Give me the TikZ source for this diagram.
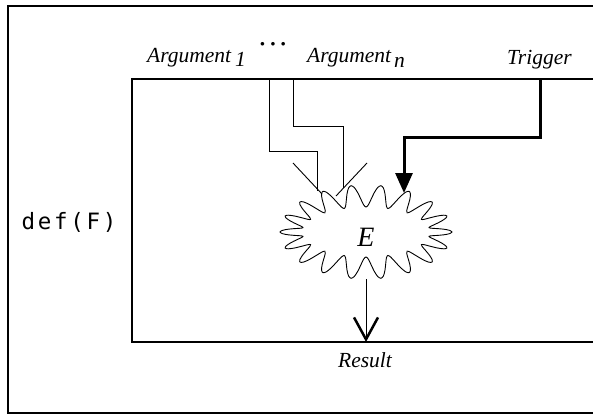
\documentclass[tikz,border=0pt]{standalone}
\usepackage{fontspec}
\setmainfont{Liberation Serif}
\newfontfamily\deffont[LetterSpace=12]{DejaVu Sans Mono}
\usetikzlibrary{arrows.meta}
\begin{document}
\begin{tikzpicture}[x=1pt,y=-1pt,
  wire/.style={line width=0.9pt},
  trig/.style={line width=3pt},
  frame/.style={line width=1.3pt},
  lab/.style={font=\fontsize{21.5}{24}\selectfont\itshape, inner sep=0pt}]
\useasboundingbox (0,0) rectangle (593,414);
\clip (0,0) rectangle (593,414);
% frames
\draw[frame] (600,6) -- (8,6) -- (8,413) -- (600,413);
\draw[frame] (600,79) -- (132,79) -- (132,342) -- (600,342);
% labels
\node[lab, anchor=base west] (arg1) at (147,63) {Argument\hspace{4pt}\raisebox{-4pt}{1}};
\node[font=\fontsize{22}{24}\selectfont\bfseries, inner sep=0pt] (dots) at (273,47) {\textperiodcentered\hspace{3pt}\textperiodcentered\hspace{3pt}\textperiodcentered};
\node[lab, anchor=base west] (argn) at (307,63) {Argument\hspace{3pt}\raisebox{-5pt}{n}};
\node[lab, anchor=base west] (trig) at (507,65) {Trigger};
\node[lab, anchor=base] (res) at (365,367) {Result};
\node[font=\deffont\fontsize{22.5}{24}\selectfont, inner sep=0pt] (def) at (69,222) {def(F)};
% expression blob
\draw[wire] plot[smooth, variable=\t, samples=181, domain=0:360]
  ({366+(75+11*cos(18*\t))*cos(\t)}, {232+(36+11*cos(18*\t))*sin(\t)}) -- cycle;
\node[font=\fontsize{28}{30}\selectfont\itshape, inner sep=0pt] (E) at (366,237) {E};
\coordinate (Ebot) at (366,279);
% argument wires
\coordinate (a1top) at (269,79);
\coordinate (a1m1) at (269,151);
\coordinate (a1m2) at (317,151);
\coordinate (a1end) at (317,191);
\draw[wire] (a1top) -- (a1m1) -- (a1m2) -- (a1end);
\coordinate (antop) at (293,79);
\coordinate (anm1) at (293,126);
\coordinate (anm2) at (343,126);
\coordinate (anend) at (343,188);
\draw[wire] (antop) -- (anm1) -- (anm2) -- (anend);
% funnel
\coordinate (fl) at (293,163);
\coordinate (fle) at (322,194);
\coordinate (fr) at (367,163);
\coordinate (fre) at (336,196);
\draw[wire] (fl) -- (fle);
\draw[wire] (fr) -- (fre);
% trigger
\coordinate (ttop) at (540,79);
\coordinate (tc1) at (540,138);
\coordinate (tc2) at (404,138);
\coordinate (tend) at (404,193);
\draw[trig, -{Triangle[length=20pt,width=17pt]}] (ttop) -- (tc1) -- (tc2) -- (tend);
% result
\coordinate (rin) at (366,342);
\draw[wire, -{Straight Barb[length=22pt,width=24pt,line width=2.5pt]}] (Ebot) -- (rin);
\end{tikzpicture}
\end{document}
